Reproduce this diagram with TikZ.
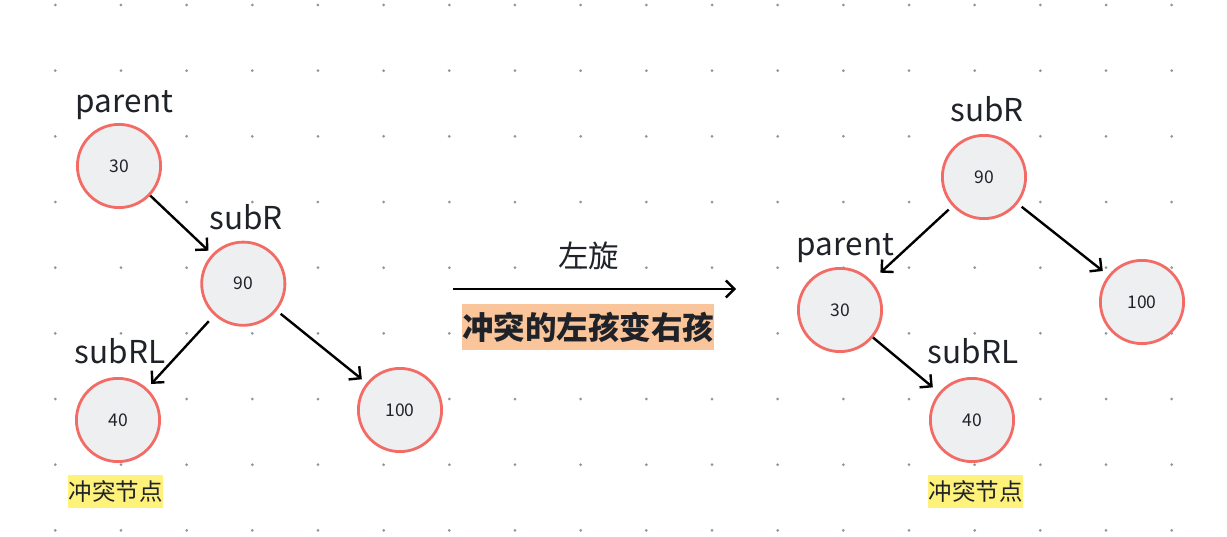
\documentclass[tikz,border=0pt]{standalone}
\usepackage{fontspec}
\setmainfont{Noto Sans CJK SC}
\usetikzlibrary{arrows.meta}
\definecolor{ink}{HTML}{1F2329}
\definecolor{nodefill}{HTML}{EEEFF1}
\definecolor{nodeline}{HTML}{F26B65}
\definecolor{griddot}{HTML}{8F959E}
\definecolor{orangehl}{HTML}{FAC59A}
\definecolor{yellowhl}{HTML}{FFF27A}
\tikzset{
  treenode/.style={circle, draw=nodeline, fill=nodefill, line width=2.8pt, minimum size=83.2pt, inner sep=0pt, text=ink, font=\fontsize{17.5}{20}\selectfont},
  namelabel/.style={anchor=base, text=ink, inner sep=0pt, font=\fontsize{31.5}{36}\selectfont},
  edge/.style={line width=2.4pt, -{Straight Barb[length=8.5pt,width=17pt,line width=2.4pt]}},
  yellowtag/.style={fill=yellowhl, text=ink, inner sep=0pt, minimum width=95pt, minimum height=33pt, font=\fontsize{23.5}{26}\selectfont},
}
\begin{document}
\begin{tikzpicture}[x=1pt,y=-1pt]
\useasboundingbox (0,0) rectangle (1227,537);
\fill[white] (0,0) rectangle (1227,537);
\foreach \i in {0,...,17}{
  \foreach \j in {0,...,8}{
    \fill[griddot] ({55.3+65.67*\i},{5+65.67*\j}) circle (1.5);
  }
}
% left tree
\node[treenode] (l30) at (119,166) {30};
\node[treenode] (l90) at (243.3,283.7) {90};
\node[treenode] (l40) at (118,420) {40};
\node[treenode] (l100) at (400,410) {100};
\node[namelabel] (lparent) at (124.5,113) {parent};
\node[namelabel] (lsubr) at (246,230) {subR};
\node[namelabel] (lsubrl) at (120,364) {subRL};
\node[yellowtag] (ltag) at (115.8,491.7) {冲突节点};
\draw[edge, shorten <=0pt, shorten >=5pt] (l30) -- (l90);
\draw[edge, shorten <=8pt, shorten >=6pt] (l90) -- (l40);
\draw[edge, shorten <=5pt, shorten >=6pt] (l90) -- (l100);
% middle
\coordinate (arrs) at (453,289);
\coordinate (arre) at (736,289);
\draw[edge] (arrs) -- (arre);
\node[anchor=base, text=ink, inner sep=0pt, font=\fontsize{30.5}{34}\selectfont] (rot) at (588.5,268) {左旋};
\node[fill=orangehl, text=ink, inner sep=0pt, minimum width=252pt, minimum height=46pt, font=\fontsize{31.5}{36}\selectfont\bfseries] (note) at (588,327) {冲突的左孩变右孩};
% right tree
\node[treenode] (r90) at (984,177) {90};
\node[treenode] (r30) at (840,310) {30};
\node[treenode] (r100) at (1142,302) {100};
\node[treenode] (r40) at (972,420) {40};
\node[namelabel] (rsubr) at (987,122) {subR};
\node[namelabel] (rparent) at (845.5,256) {parent};
\node[namelabel] (rsubrl) at (973,364) {subRL};
\node[yellowtag] (rtag) at (975.8,491.7) {冲突节点};
\draw[edge, shorten <=5pt, shorten >=12pt] (r90) -- (r30);
\draw[edge, shorten <=5pt, shorten >=7pt] (r90) -- (r100);
\draw[edge, shorten <=0pt, shorten >=8pt] (r30) -- (r40);
\end{tikzpicture}
\end{document}
